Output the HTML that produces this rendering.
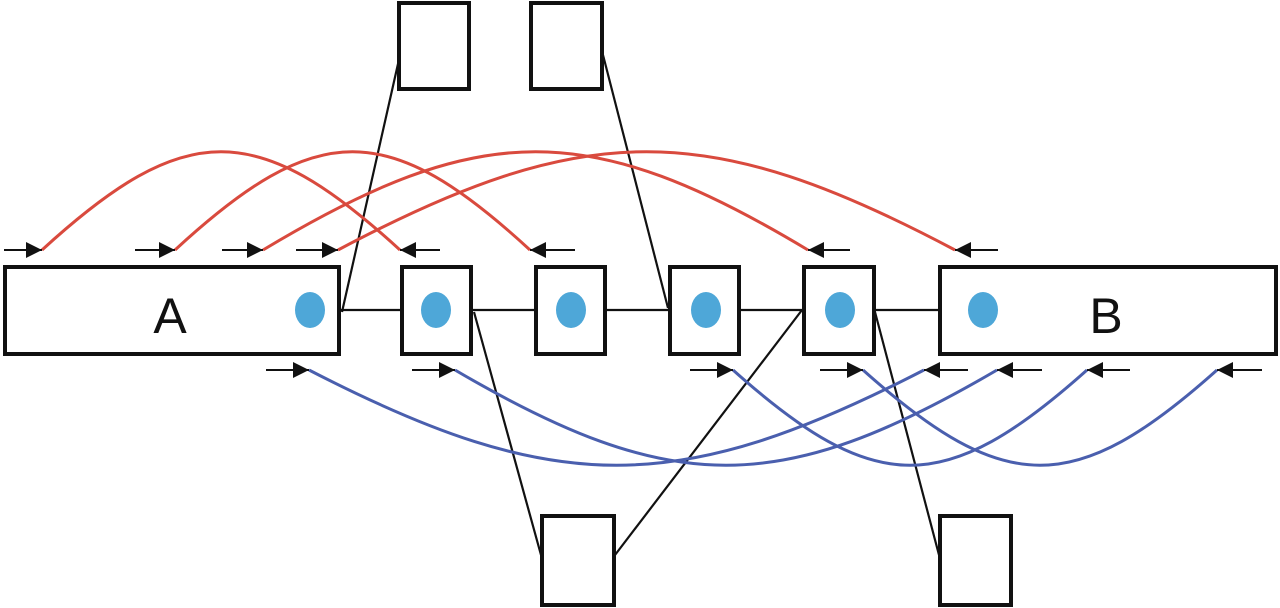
<!DOCTYPE html>
<html><head><style>html,body{margin:0;padding:0;background:#fff;}svg{display:block}</style></head>
<body>
<svg width="1280" height="608" viewBox="0 0 1280 608" xmlns="http://www.w3.org/2000/svg">
<defs>
<marker id="ar" viewBox="0 0 10 10" refX="10" refY="5" markerWidth="16" markerHeight="16" markerUnits="userSpaceOnUse" orient="auto"><path d="M0,0 L10,5 L0,10 z" fill="#111"/></marker>
</defs>
<g fill="none" stroke="#111" stroke-width="2.2">
<line x1="340" y1="310" x2="402" y2="310"/>
<line x1="472" y1="310" x2="536" y2="310"/>
<line x1="606" y1="310" x2="670" y2="310"/>
<line x1="740" y1="310" x2="804" y2="310"/>
<line x1="875" y1="310" x2="940" y2="310"/>
<line x1="342" y1="312" x2="400" y2="55"/>
<line x1="603" y1="55" x2="668" y2="308"/>
<line x1="474" y1="312" x2="541" y2="555"/>
<line x1="615" y1="555" x2="802" y2="310"/>
<line x1="875" y1="312" x2="939" y2="555"/>
</g>
<g fill="none" stroke="#d94a3e" stroke-width="3">
<path d="M42,250 C185,119 257,119 400,250"/>
<path d="M175,250 C317,119 388,119 530,250"/>
<path d="M263,250 C481,119 590,119 808,250"/>
<path d="M338,250 C585,119 708,119 955,250"/>
</g>
<g fill="none" stroke="#4a5fae" stroke-width="3">
<path d="M309,370 C555,497 678,497 924,370"/>
<path d="M455,370 C672,497 780,497 997,370"/>
<path d="M733,370 C875,497 945,497 1087,370"/>
<path d="M863,370 C1005,497 1075,497 1217,370"/>
</g>
<g stroke="#111" stroke-width="2">
<line x1="4" y1="250" x2="42" y2="250" marker-end="url(#ar)"/>
<line x1="135" y1="250" x2="175" y2="250" marker-end="url(#ar)"/>
<line x1="222" y1="250" x2="263" y2="250" marker-end="url(#ar)"/>
<line x1="296" y1="250" x2="338" y2="250" marker-end="url(#ar)"/>
<line x1="440" y1="250" x2="400" y2="250" marker-end="url(#ar)"/>
<line x1="575" y1="250" x2="530" y2="250" marker-end="url(#ar)"/>
<line x1="850" y1="250" x2="808" y2="250" marker-end="url(#ar)"/>
<line x1="998" y1="250" x2="955" y2="250" marker-end="url(#ar)"/>
<line x1="266" y1="370" x2="309" y2="370" marker-end="url(#ar)"/>
<line x1="412" y1="370" x2="455" y2="370" marker-end="url(#ar)"/>
<line x1="690" y1="370" x2="733" y2="370" marker-end="url(#ar)"/>
<line x1="820" y1="370" x2="863" y2="370" marker-end="url(#ar)"/>
<line x1="968" y1="370" x2="924" y2="370" marker-end="url(#ar)"/>
<line x1="1042" y1="370" x2="997" y2="370" marker-end="url(#ar)"/>
<line x1="1130" y1="370" x2="1087" y2="370" marker-end="url(#ar)"/>
<line x1="1262" y1="370" x2="1217" y2="370" marker-end="url(#ar)"/>
</g>
<g fill="#fff" stroke="#111" stroke-width="4">
<rect x="5" y="267" width="334" height="87"/>
<rect x="402" y="267" width="69" height="87"/>
<rect x="536" y="267" width="69" height="87"/>
<rect x="670" y="267" width="69" height="87"/>
<rect x="804" y="267" width="70" height="87"/>
<rect x="940" y="267" width="336" height="87"/>
<rect x="399" y="3" width="70" height="86"/>
<rect x="531" y="3" width="71" height="86"/>
<rect x="542" y="516" width="72" height="89"/>
<rect x="940" y="516" width="71" height="89"/>
</g>
<g fill="#4ea7d8">
<ellipse cx="310" cy="310" rx="15" ry="18"/>
<ellipse cx="436" cy="310" rx="15" ry="18"/>
<ellipse cx="571" cy="310" rx="15" ry="18"/>
<ellipse cx="706" cy="310" rx="15" ry="18"/>
<ellipse cx="840" cy="310" rx="15" ry="18"/>
<ellipse cx="983" cy="310" rx="15" ry="18"/>
</g>
<text x="170" y="333" font-family="Liberation Sans, sans-serif" font-size="50" text-anchor="middle" fill="#111">A</text>
<text x="1106" y="333" font-family="Liberation Sans, sans-serif" font-size="50" text-anchor="middle" fill="#111">B</text>
</svg>
</body></html>
